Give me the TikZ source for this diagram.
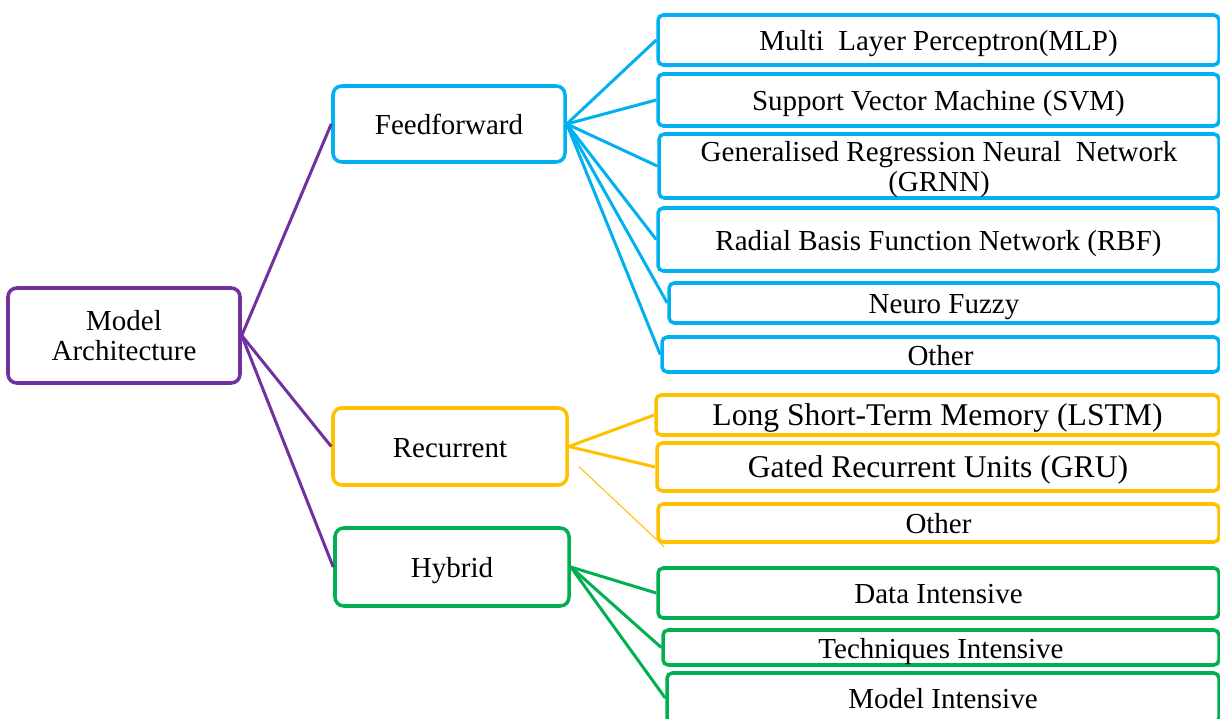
\documentclass[tikz,border=0pt]{standalone}
\usepackage{fontspec}
\setmainfont{Liberation Serif}
\usetikzlibrary{calc}
\definecolor{archpurple}{HTML}{7030A0}
\definecolor{ffblue}{HTML}{00B0F0}
\definecolor{recgold}{HTML}{FFC000}
\definecolor{hybgreen}{HTML}{00B050}
\tikzset{box/.style={draw=#1,fill=white,line width=2pt,rounded corners=3pt,
  align=center,inner sep=0pt,font=\fontsize{16.5}{17}\selectfont},
  leaf/.style={box=#1,text height=15.6pt,text depth=3.6pt},
  sz/.style 2 args={minimum width=#1*0.02cm,minimum height=#2*0.02cm},
  link/.style={draw=#1,line width=1.7pt}}

\begin{document}
\begin{tikzpicture}[x=0.02cm,y=-0.02cm]
\useasboundingbox (0,0) rectangle (1220,719);
\node[box=archpurple,sz={232}{95},rounded corners=5pt] (arch) at (124,335.5) {Model\\Architecture};
\node[leaf=ffblue,sz={232}{76},rounded corners=5pt] (ff) at (449,124) {Feedforward};
\node[leaf=recgold,sz={234}{77},rounded corners=5pt] (rec) at (450,446.5) {Recurrent};
\node[leaf=hybgreen,sz={234}{78},rounded corners=5pt] (hyb) at (452,567) {Hybrid};
% feedforward family
\node[leaf=ffblue,sz={561}{50}] (mlp) at (938.5,40) {Multi~ Layer Perceptron(MLP)};
\node[leaf=ffblue,sz={561}{52}] (svm) at (938.5,100) {Support Vector Machine (SVM)};
\node[box=ffblue,sz={560}{64}] (grnn) at (939,166) {\rule{0pt}{15.9pt}Generalised Regression Neural~ Network\\(GRNN)};
\node[leaf=ffblue,sz={561}{63}] (rbf) at (938.5,239.5) {Radial Basis Function Network (RBF)};
\node[leaf=ffblue,sz={550}{40}] (nf) at (944,303) {Neuro Fuzzy};
\node[leaf=ffblue,sz={557}{35}] (ffoth) at (940.5,354.5) {Other};
% recurrent family
\node[leaf=recgold,sz={563}{40},font=\fontsize{18}{19}\selectfont,text height=16.5pt,text depth=4pt] (lstm) at (937.5,415) {Long Short-Term Memory (LSTM)};
\node[leaf=recgold,sz={562}{48},font=\fontsize{18}{19}\selectfont,text height=16.5pt,text depth=4pt] (gru) at (938,467) {Gated Recurrent Units (GRU)};
\node[leaf=recgold,sz={561}{38}] (recoth) at (938.5,523) {Other};
% hybrid family
\node[leaf=hybgreen,sz={561}{50}] (data) at (938.5,593) {Data Intensive};
\node[leaf=hybgreen,sz={556}{35}] (tech) at (941,647.5) {Techniques Intensive};
\node[leaf=hybgreen,sz={552}{50}] (mdl) at (943,698) {Model Intensive};
\draw[link=archpurple] (arch.east)--(ff.west);
\draw[link=archpurple] (arch.east)--(rec.west);
\draw[link=archpurple] (arch.east)--(hyb.west);
\foreach \n in {mlp,svm,grnn,rbf,nf,ffoth}
  \draw[link=ffblue] (ff.east)--(\n.west);
\draw[link=recgold] (rec.east)--(lstm.west);
\draw[link=recgold] (rec.east)--(gru.west);
\draw[draw=recgold,line width=0.6pt] ($(rec.east)+(10,20)$)--($(recoth.south west)+(8,3)$);
\foreach \n in {data,tech,mdl}
  \draw[link=hybgreen] (hyb.east)--(\n.west);
\end{tikzpicture}
\end{document}
